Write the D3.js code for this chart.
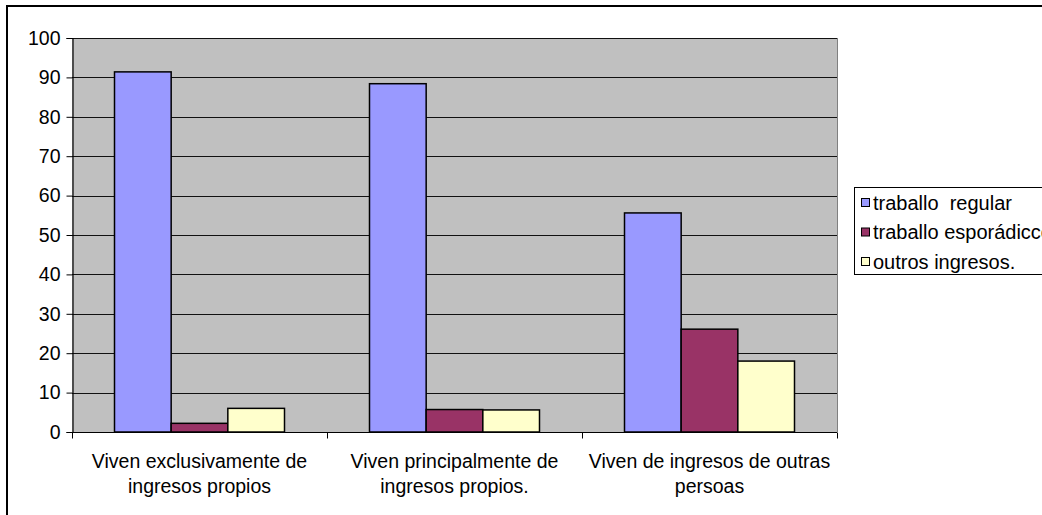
<!DOCTYPE html>
<html><head><meta charset="utf-8">
<script src="https://cdn.jsdelivr.net/npm/d3@7"></script>
<style>html,body{margin:0;padding:0;background:#fff;} svg{display:block;} text{font-family:"Liberation Sans",Arial,sans-serif;fill:#000;}</style>
</head><body>
<svg id="c" width="1042" height="515"></svg>
<script>
const categories = [
  ["Viven exclusivamente de", "ingresos propios"],
  ["Viven principalmente de", "ingresos propios."],
  ["Viven de ingresos de outras", "persoas"]
];
const seriesNames = ["traballo  regular", "traballo esporádicco", "outros ingresos."];
const seriesColors = ["#9999FF", "#993366", "#FFFFCC"];
const regular = [91.4, 88.4, 55.6];
const esporadico = [2.2, 5.7, 26.1];
const outros = [6.0, 5.6, 18.0];
const yTicks = [0, 10, 20, 30, 40, 50, 60, 70, 80, 90, 100];

const seriesValues = [regular, esporadico, outros];
const svg = d3.select("#c");
const FS = 19.5;
svg.append("rect").attr("width",1042).attr("height",515).attr("fill","#fff");
svg.append("rect").attr("x",7).attr("y",6).attr("width",1100).attr("height",600)
  .attr("fill","none").attr("stroke","#000").attr("stroke-width",2);

const L = 72, R = 837, T = 38, B = 432;
const catIdx = categories.map((d,i)=>i);
const x = d3.scaleBand().domain(catIdx).range([L,R]).padding(0);
const bw = x.bandwidth();
const xs = d3.scaleBand().domain(d3.range(seriesNames.length)).range([bw/6, bw*5/6]).padding(0);
const y = d3.scaleLinear().domain([0,100]).range([B,T]);

svg.append("rect").attr("x",L).attr("y",T).attr("width",R-L).attr("height",B-T).attr("fill","#C0C0C0");
svg.append("line").attr("x1",R+0.5).attr("x2",R+0.5).attr("y1",T).attr("y2",B).attr("stroke","#808080");

// gridlines
svg.append("g").selectAll("line").data(yTicks.filter(d=>d>0)).join("line")
  .attr("x1",L).attr("x2",R).attr("y1",d=>Math.round(y(d))+0.5).attr("y2",d=>Math.round(y(d))+0.5)
  .attr("stroke","#111").attr("stroke-width",1.2);

// bars
const groups = svg.append("g").selectAll("g").data(seriesValues).join("g")
  .attr("fill",(d,i)=>seriesColors[i]);
groups.each(function(vals, si){
  d3.select(this).selectAll("rect").data(vals).join("rect")
    .attr("x",(v,ci)=>x(ci)+xs(si))
    .attr("y",v=>y(v))
    .attr("width",xs.bandwidth())
    .attr("height",v=>B-y(v))
    .attr("stroke","#000").attr("stroke-width",1.5);
});

// y axis
const ya = d3.axisLeft(y).tickValues(yTicks).tickSize(6).tickPadding(6);
const gy = svg.append("g").attr("transform",`translate(${L+0.5},0)`).call(ya);
gy.selectAll("text").style("font-size",FS+"px").style("font-family","Liberation Sans, Arial, sans-serif").attr("fill","#000");
gy.select(".domain").attr("stroke","#000").attr("stroke-width",1.2);
gy.selectAll(".tick line").attr("stroke","#000");

// x axis
const xa = d3.scaleLinear().domain([0,3]).range([L,R]);
const gx = svg.append("g").attr("transform",`translate(0,${B+0.5})`);
gx.append("line").attr("x1",L).attr("x2",R).attr("stroke","#000").attr("stroke-width",1.2);
gx.selectAll(".tk").data([0,1,2,3]).join("line").attr("class","tk")
  .attr("x1",d=>Math.round(xa(d))+0.5).attr("x2",d=>Math.round(xa(d))+0.5).attr("y1",0).attr("y2",6).attr("stroke","#000");
const lab = gx.selectAll("text").data(categories).join("text")
  .attr("text-anchor","middle").style("font-size",FS+"px");
lab.each(function(lines,ci){
  d3.select(this).selectAll("tspan").data(lines).join("tspan")
    .attr("x",x(ci)+bw/2).attr("y",(d,j)=>35+j*25).text(d=>d);
});

// legend
const lg = svg.append("g");
lg.append("rect").attr("x",854.5).attr("y",187.5).attr("width",400).attr("height",87)
  .attr("fill","#fff").attr("stroke","#000");
const items = lg.selectAll("g").data(seriesNames).join("g")
  .attr("transform",(d,i)=>`translate(861,${203+i*29.5})`);
items.append("rect").attr("x",0.5).attr("y",-4.5).attr("width",8).attr("height",8)
  .attr("fill",(d,i)=>seriesColors[i]).attr("stroke","#000");
items.append("text").attr("x",12).attr("y",6.5).style("font-size","20px").style("white-space","pre").text(d=>d);
</script>
</body></html>
